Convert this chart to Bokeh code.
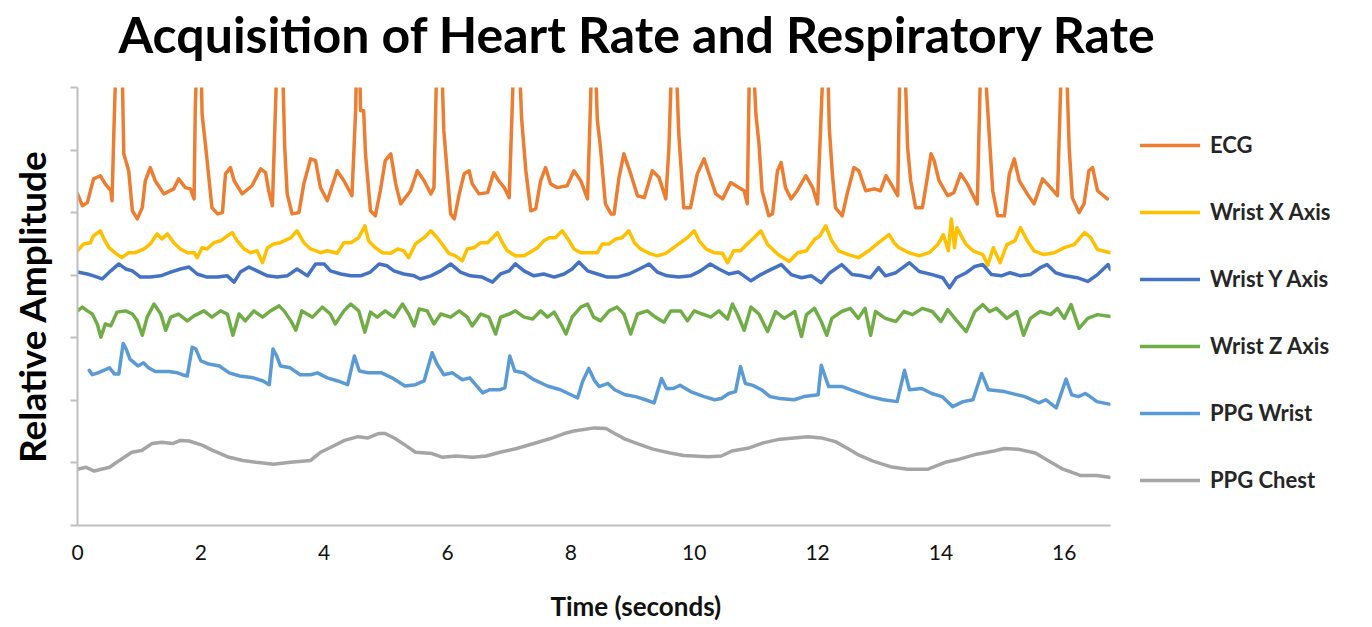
from bokeh.plotting import figure
from bokeh.models import Range1d, Legend, LegendItem, FixedTicker, Title
from bokeh.embed import file_html
from bokeh.resources import INLINE

# ---------------- data ----------------
ecg_t = [0.00,0.08,0.16,0.26,0.37,0.45,0.54,0.56,0.59,0.63,0.72,0.75,0.83,0.89,0.97,1.05,1.10,1.18,1.26,1.40,
         1.56,1.64,1.75,1.83,1.89,1.91,1.94,2.00,2.02,2.08,2.18,2.27,2.35,2.40,2.48,2.54,2.67,2.83,2.97,3.05,
         3.10,3.16,3.24,3.32,3.36,3.40,3.48,3.59,3.67,3.78,3.86,3.94,4.05,4.21,4.32,4.45,4.51,4.53,4.57,4.59,
         4.64,4.67,4.75,4.83,4.91,4.99,5.08,5.16,5.24,5.40,5.51,5.62,5.73,5.78,5.83,5.90,5.94,6.05,6.11,6.19,
         6.27,6.35,6.40,6.51,6.65,6.75,6.83,6.92,7.00,7.08,7.16,7.20,7.27,7.35,7.43,7.51,7.59,7.67,7.78,7.94,
         8.05,8.16,8.27,8.32,8.34,8.39,8.43,8.48,8.56,8.65,8.70,8.78,8.86,8.97,9.08,9.19,9.32,9.43,9.54,9.59,
         9.64,9.70,9.75,9.83,9.94,10.05,10.16,10.24,10.35,10.46,10.59,10.81,10.86,10.90,10.95,11.00,11.05,11.10,11.21,11.27,
         11.35,11.41,11.48,11.57,11.67,11.81,11.92,12.00,12.10,12.16,12.19,12.24,12.29,12.40,12.48,12.59,12.67,12.78,12.92,13.02,
         13.11,13.19,13.30,13.34,13.41,13.46,13.51,13.59,13.70,13.78,13.84,13.89,13.97,14.11,14.21,14.32,14.43,14.59,14.65,14.70,
         14.78,14.84,14.92,15.03,15.11,15.19,15.27,15.40,15.51,15.65,15.78,15.89,15.96,16.03,16.08,16.13,16.24,16.32,16.40,16.46,
         16.54,16.70]
ecg_v = [5.30,5.11,5.16,5.54,5.59,5.46,5.35,5.19,6.31,7.60,7.60,5.94,5.67,5.03,4.90,5.08,5.51,5.72,5.51,5.30,
         5.38,5.54,5.40,5.38,5.22,6.68,7.60,7.60,6.58,6.04,5.08,4.98,5.00,5.62,5.72,5.51,5.30,5.43,5.70,5.64,
         5.35,5.11,7.60,7.60,6.04,5.30,4.98,5.00,5.46,5.86,5.83,5.40,5.19,5.67,5.51,5.27,6.63,7.60,7.60,6.63,
         6.63,5.94,5.03,4.95,5.35,5.83,5.94,5.46,5.14,5.35,5.67,5.51,5.30,5.40,7.60,7.60,6.31,4.98,4.90,5.30,
         5.62,5.67,5.46,5.30,5.32,5.64,5.51,5.40,5.24,7.60,7.60,6.52,5.67,5.03,5.06,5.51,5.72,5.46,5.40,5.43,
         5.67,5.51,5.22,6.79,7.60,7.60,6.47,6.04,5.14,4.98,4.98,5.56,5.94,5.62,5.27,5.24,5.67,5.56,5.22,6.04,
         7.60,7.60,6.26,5.08,5.08,5.62,5.86,5.62,5.30,5.22,5.48,5.35,5.14,7.60,7.60,6.58,6.10,5.35,4.95,4.98,
         5.67,5.80,5.40,5.22,5.35,5.59,5.40,5.14,7.60,7.60,6.36,5.62,5.08,4.95,5.30,5.72,5.67,5.35,5.38,5.35,
         5.59,5.46,5.27,7.60,7.60,6.04,5.51,5.08,5.08,5.56,5.94,5.83,5.51,5.27,5.32,5.62,5.46,5.14,7.60,7.60,
         6.31,5.35,4.95,4.95,5.62,5.86,5.51,5.30,5.14,5.54,5.40,5.27,7.60,7.60,6.04,5.24,5.00,5.14,5.67,5.72,
         5.35,5.22]

wx_t = [0.00,0.10,0.21,0.26,0.37,0.43,0.51,0.62,0.72,0.83,0.94,1.08,1.18,1.29,1.37,1.46,1.56,1.67,1.78,1.89,
        1.94,2.02,2.10,2.21,2.32,2.43,2.51,2.59,2.70,2.81,2.91,3.00,3.08,3.18,3.29,3.46,3.56,3.67,3.78,3.94,
        4.05,4.21,4.32,4.43,4.56,4.66,4.72,4.83,4.94,5.08,5.19,5.29,5.37,5.48,5.62,5.73,5.83,5.91,6.02,6.13,
        6.24,6.32,6.43,6.54,6.65,6.73,6.81,6.89,6.97,7.10,7.24,7.38,7.46,7.56,7.65,7.75,7.86,7.94,8.05,8.16,
        8.32,8.43,8.51,8.62,8.73,8.83,8.94,9.03,9.13,9.27,9.40,9.54,9.64,9.75,9.89,10.00,10.08,10.19,10.32,10.46,
        10.54,10.64,10.75,10.86,10.97,11.08,11.19,11.36,11.54,11.68,11.82,11.95,12.04,12.13,12.23,12.34,12.50,12.66,12.83,12.99,
        13.16,13.24,13.32,13.48,13.65,13.81,13.95,14.04,14.12,14.17,14.22,14.26,14.33,14.41,14.52,14.68,14.76,14.85,14.96,15.07,
        15.20,15.29,15.40,15.51,15.67,15.84,16.00,16.16,16.33,16.43,16.54,16.75]
wx_v = [4.39,4.50,4.52,4.63,4.71,4.58,4.44,4.35,4.28,4.36,4.36,4.42,4.50,4.66,4.58,4.66,4.52,4.42,4.36,4.36,
        4.28,4.44,4.42,4.52,4.55,4.63,4.68,4.55,4.42,4.36,4.39,4.20,4.44,4.50,4.52,4.60,4.71,4.52,4.42,4.36,
        4.39,4.35,4.52,4.52,4.60,4.79,4.55,4.44,4.36,4.35,4.42,4.39,4.28,4.50,4.60,4.71,4.60,4.50,4.35,4.31,
        4.23,4.42,4.44,4.52,4.52,4.60,4.68,4.52,4.39,4.31,4.31,4.39,4.44,4.55,4.60,4.60,4.71,4.60,4.42,4.36,
        4.36,4.36,4.50,4.50,4.58,4.60,4.71,4.52,4.42,4.35,4.31,4.35,4.42,4.50,4.60,4.71,4.55,4.42,4.36,4.35,
        4.20,4.39,4.39,4.50,4.60,4.71,4.49,4.33,4.22,4.36,4.39,4.57,4.63,4.79,4.55,4.39,4.33,4.28,4.39,4.52,
        4.65,4.52,4.44,4.36,4.31,4.36,4.49,4.65,4.39,4.90,4.44,4.76,4.63,4.49,4.39,4.33,4.16,4.44,4.20,4.49,
        4.55,4.76,4.55,4.39,4.33,4.36,4.44,4.49,4.68,4.60,4.41,4.36]

wy_t = [0.00,0.16,0.26,0.40,0.54,0.67,0.78,0.89,1.02,1.18,1.35,1.51,1.67,1.81,1.94,2.10,2.27,2.43,2.54,2.64,
        2.78,2.91,3.08,3.24,3.40,3.56,3.73,3.86,4.00,4.10,4.27,4.43,4.59,4.75,4.89,5.02,5.13,5.29,5.46,5.56,
        5.73,5.89,6.05,6.21,6.37,6.56,6.73,6.86,7.00,7.10,7.24,7.40,7.56,7.73,7.89,8.02,8.13,8.27,8.43,8.59,
        8.75,8.94,9.11,9.27,9.40,9.56,9.75,9.94,10.10,10.26,10.40,10.56,10.72,10.92,11.08,11.24,11.41,11.57,11.74,11.90,
        12.06,12.20,12.39,12.56,12.72,12.86,12.99,13.10,13.27,13.49,13.65,13.86,14.03,14.14,14.25,14.41,14.55,14.68,14.82,14.98,
        15.12,15.29,15.45,15.61,15.72,15.86,16.02,16.21,16.38,16.54,16.71,16.75]
wy_v = [4.05,4.02,3.99,3.94,4.07,4.18,4.10,4.07,3.97,3.97,3.99,4.05,4.10,4.13,4.02,3.97,3.97,3.99,3.89,4.05,
        4.13,4.07,3.99,3.97,3.99,4.10,3.99,4.18,4.18,4.07,4.02,3.99,3.99,4.05,4.18,4.15,4.07,4.02,3.99,3.94,
        3.99,4.07,4.18,4.05,3.99,3.97,3.89,4.02,4.07,4.18,4.07,3.99,4.02,3.97,4.02,4.10,4.21,4.07,4.02,3.97,
        3.97,4.02,4.10,4.18,4.05,3.99,3.97,3.99,4.07,4.18,4.10,4.02,4.05,3.91,4.01,4.09,4.17,4.01,3.96,3.99,
        3.88,4.04,4.17,4.01,3.99,3.96,4.12,3.99,4.04,4.20,4.06,4.01,3.96,3.80,3.96,4.04,4.14,4.17,4.01,3.99,
        4.04,3.99,4.01,4.12,4.17,4.04,3.99,3.96,3.90,4.01,4.17,4.09]

wz_t = [0.00,0.08,0.16,0.24,0.32,0.38,0.45,0.54,0.64,0.78,0.89,0.97,1.05,1.13,1.24,1.35,1.43,1.51,1.64,1.78,
        1.89,2.05,2.18,2.32,2.43,2.52,2.62,2.72,2.86,3.00,3.13,3.27,3.35,3.46,3.54,3.64,3.81,3.97,4.10,4.18,
        4.32,4.43,4.56,4.66,4.75,4.86,4.99,5.13,5.27,5.37,5.46,5.54,5.67,5.78,5.89,6.05,6.19,6.32,6.40,6.54,
        6.67,6.78,6.86,7.00,7.10,7.24,7.38,7.51,7.62,7.73,7.84,7.92,8.02,8.16,8.27,8.37,8.48,8.62,8.75,8.86,
        8.97,9.08,9.24,9.37,9.51,9.62,9.78,9.89,10.00,10.13,10.27,10.40,10.54,10.62,10.70,10.81,10.92,11.05,11.19,11.32,
        11.46,11.63,11.74,11.82,11.95,12.06,12.15,12.23,12.39,12.53,12.66,12.77,12.86,12.94,13.10,13.27,13.40,13.54,13.70,13.86,
        14.00,14.11,14.27,14.41,14.55,14.68,14.79,14.90,15.07,15.23,15.34,15.45,15.61,15.78,15.89,16.00,16.11,16.24,16.38,16.54,
        16.75]
wz_v = [3.43,3.49,3.43,3.38,3.22,3.01,3.22,3.19,3.41,3.43,3.38,3.27,3.04,3.33,3.54,3.38,3.12,3.33,3.38,3.27,
        3.35,3.43,3.33,3.43,3.38,3.04,3.38,3.27,3.43,3.33,3.43,3.51,3.43,3.27,3.12,3.43,3.33,3.49,3.38,3.22,
        3.43,3.54,3.43,3.09,3.41,3.33,3.43,3.33,3.54,3.38,3.19,3.46,3.43,3.22,3.38,3.33,3.43,3.33,3.19,3.38,
        3.33,3.06,3.33,3.38,3.43,3.33,3.30,3.43,3.33,3.41,3.22,3.06,3.33,3.49,3.54,3.33,3.27,3.43,3.49,3.38,
        3.06,3.38,3.43,3.33,3.25,3.43,3.43,3.27,3.43,3.38,3.33,3.43,3.30,3.54,3.38,3.12,3.49,3.38,3.10,3.42,
        3.31,3.42,3.02,3.37,3.47,3.26,3.04,3.31,3.42,3.47,3.31,3.47,3.04,3.42,3.31,3.26,3.42,3.37,3.47,3.42,
        3.26,3.45,3.26,3.10,3.42,3.53,3.42,3.47,3.31,3.42,3.04,3.31,3.42,3.37,3.47,3.31,3.53,3.15,3.31,3.37,
        3.34]

pw_t = [0.19,0.24,0.33,0.52,0.60,0.67,0.74,0.79,0.85,0.98,1.07,1.15,1.26,1.48,1.62,1.70,1.78,1.86,1.92,2.00,
        2.13,2.30,2.46,2.63,2.85,3.01,3.11,3.17,3.23,3.29,3.45,3.61,3.78,3.89,4.05,4.22,4.38,4.49,4.57,4.71,
        4.93,5.10,5.31,5.48,5.62,5.75,5.83,5.94,6.08,6.24,6.36,6.57,6.68,6.85,6.93,7.01,7.09,7.23,7.40,7.62,
        7.83,8.00,8.11,8.19,8.29,8.38,8.46,8.60,8.71,8.88,9.05,9.21,9.35,9.47,9.55,9.66,9.77,9.94,10.16,10.33,
        10.44,10.56,10.67,10.75,10.83,10.95,11.09,11.23,11.39,11.62,11.78,12.01,12.06,12.18,12.40,12.62,12.85,13.07,13.29,13.41,
        13.49,13.69,13.85,14.02,14.19,14.36,14.52,14.66,14.77,15.03,15.36,15.59,15.70,15.87,16.03,16.12,16.23,16.34,16.42,16.53,
        16.73]
pw_v = [2.48,2.41,2.44,2.52,2.42,2.42,2.91,2.82,2.66,2.55,2.60,2.52,2.46,2.46,2.44,2.41,2.39,2.85,2.82,2.63,
        2.58,2.55,2.44,2.39,2.36,2.31,2.25,2.82,2.71,2.55,2.52,2.41,2.41,2.44,2.36,2.31,2.25,2.71,2.47,2.44,
        2.44,2.36,2.23,2.25,2.31,2.76,2.58,2.41,2.44,2.33,2.36,2.12,2.17,2.17,2.20,2.71,2.47,2.44,2.33,2.23,
        2.17,2.09,2.04,2.30,2.51,2.32,2.22,2.27,2.17,2.09,2.06,2.01,1.96,2.35,2.19,2.19,2.24,2.14,2.06,2.01,
        2.03,2.11,2.14,2.54,2.27,2.24,2.17,2.06,2.03,2.01,2.06,2.09,2.56,2.22,2.22,2.14,2.06,2.01,1.98,2.48,
        2.17,2.19,2.11,2.06,1.90,1.98,2.01,2.43,2.17,2.14,2.06,1.96,2.01,1.88,2.34,2.09,2.06,2.11,2.06,1.98,
        1.94]

pc_t = [0.00,0.14,0.27,0.52,0.68,0.88,1.04,1.21,1.37,1.54,1.67,1.81,2.03,2.19,2.46,2.68,2.90,3.18,3.45,3.78,
        3.94,4.11,4.33,4.55,4.71,4.88,4.99,5.15,5.32,5.48,5.75,5.92,6.14,6.41,6.63,6.85,7.12,7.40,7.67,7.89,
        8.05,8.38,8.57,8.71,8.88,9.10,9.33,9.61,9.83,10.22,10.44,10.61,10.89,11.12,11.39,11.62,11.84,12.06,12.29,12.51,
        12.68,12.90,13.18,13.46,13.79,14.07,14.30,14.58,14.86,15.03,15.25,15.53,15.75,15.98,16.26,16.53,16.73]
pc_v = [0.90,0.93,0.87,0.93,1.04,1.17,1.20,1.31,1.33,1.31,1.36,1.35,1.28,1.20,1.09,1.04,1.01,0.98,1.01,1.04,
        1.17,1.25,1.36,1.42,1.40,1.47,1.47,1.39,1.28,1.17,1.15,1.09,1.11,1.09,1.11,1.17,1.23,1.31,1.39,1.47,
        1.51,1.56,1.55,1.47,1.38,1.30,1.22,1.16,1.12,1.10,1.11,1.19,1.24,1.32,1.38,1.40,1.42,1.40,1.34,1.22,
        1.12,1.03,0.94,0.90,0.90,1.01,1.06,1.14,1.19,1.23,1.22,1.16,1.03,0.90,0.80,0.80,0.77]

series_names = ["ECG", "Wrist X Axis", "Wrist Y Axis", "Wrist Z Axis", "PPG Wrist", "PPG Chest"]
series_colors = ["#ED7D31", "#FFC000", "#4472C4", "#70AD47", "#5B9BD5", "#A5A5A5"]
x_ticks = [0, 2, 4, 6, 8, 10, 12, 14, 16]
y_ticks = [0, 1, 2, 3, 4, 5, 6, 7]
x_max = 16.75
y_max = 7

FONT = "Lato"

p = figure(frame_width=1033, frame_height=438,
           x_range=Range1d(0, x_max), y_range=Range1d(0, y_max),
           output_backend="svg", toolbar_location=None,
           min_border_left=77, min_border_top=87, min_border_bottom=40, min_border_right=240,
           background_fill_color="white", border_fill_color="white")
p.outline_line_color = None
p.xgrid.visible = False
p.ygrid.visible = False

# spacer between frame and title (keeps the title high, like the reference)
p.add_layout(Title(text=" ", text_font_size="20px", standoff=0), "above")

# title
p.title.text = "Acquisition of Heart Rate and Respiratory Rate"
p.title.text_font = FONT
p.title.text_font_size = "50px"
p.title.text_font_style = "bold"
p.title.text_color = "#000000"
p.title.align = "left"
p.title.offset = 41
p.title.standoff = 0

# x axis
p.xaxis.ticker = FixedTicker(ticks=x_ticks)
p.xaxis.major_tick_out = 0
p.xaxis.major_tick_in = 0
p.xaxis.minor_tick_line_color = None
p.xaxis.axis_line_color = "#BFBFBF"
p.xaxis.axis_line_width = 2
p.xaxis.major_label_text_font = FONT
p.xaxis.major_label_text_font_size = "21px"
p.xaxis.major_label_text_color = "#111111"
p.xaxis.major_label_standoff = 19

p.add_layout(Title(text=" ", text_font_size="21px", standoff=0), "below")
xt = Title(text="Time (seconds)", align="left", offset=473, text_font=FONT,
           text_font_size="26px", text_font_style="bold", text_color="#111111", standoff=0)
p.add_layout(xt, "below")

# y axis
p.yaxis.ticker = FixedTicker(ticks=y_ticks)
p.yaxis.major_tick_out = 7
p.yaxis.major_tick_in = 0
p.yaxis.major_tick_line_color = "#BFBFBF"
p.yaxis.major_tick_line_width = 2
p.yaxis.minor_tick_line_color = None
p.yaxis.axis_line_color = "#BFBFBF"
p.yaxis.axis_line_width = 2
p.yaxis.major_label_overrides = {t: "" for t in y_ticks}
p.yaxis.major_label_text_font_size = "1px"
p.yaxis.major_label_standoff = 0
p.yaxis.axis_label = "Relative Amplitude"
p.yaxis.axis_label_text_font = FONT
p.yaxis.axis_label_text_font_size = "37px"
p.yaxis.axis_label_text_font_style = "bold"
p.yaxis.axis_label_text_color = "#000000"
p.yaxis.axis_label_standoff = 17

data = [(ecg_t, ecg_v), (wx_t, wx_v), (wy_t, wy_v), (wz_t, wz_v), (pw_t, pw_v), (pc_t, pc_v)]
items = []
for (t, v), name, col in zip(data, series_names, series_colors):
    r = p.line(t, v, line_color=col, line_width=3.5, line_join="round", line_cap="round")
    items.append(LegendItem(label=name, renderers=[r]))

legend = Legend(items=items, location=(30, 32), orientation="vertical",
                glyph_width=60, glyph_height=20, label_height=20, label_standoff=10,
                spacing=40, padding=0, margin=0,
                label_text_font=FONT, label_text_font_size="22px", label_text_font_style="bold",
                label_text_color="#262626", border_line_color=None, background_fill_alpha=0)
p.add_layout(legend, "right")

open("out.html", "w").write(file_html(p, INLINE))
